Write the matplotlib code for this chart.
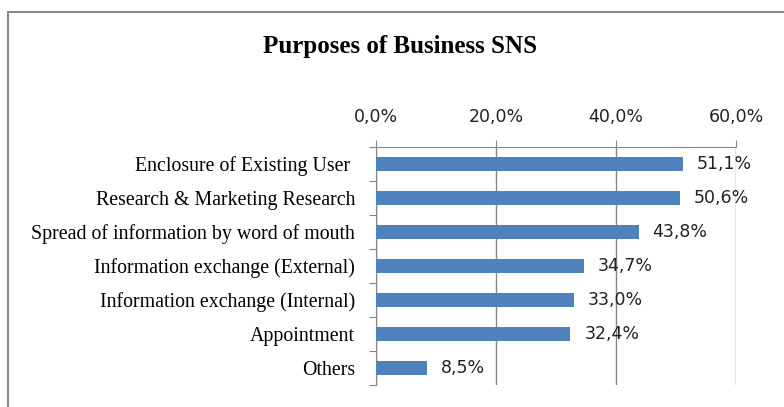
import matplotlib
matplotlib.use("Agg")
import matplotlib.pyplot as plt
from matplotlib.patches import Rectangle

categories = ["Enclosure of Existing User ", "Research & Marketing Research",
              "Spread of information by word of mouth", "Information exchange (External)",
              "Information exchange (Internal)", "Appointment", "Others"]
values = [51.1, 50.6, 43.8, 34.7, 33.0, 32.4, 8.5]
ticks = [0, 20, 40, 60]
tick_labels = ["0,0%", "20,0%", "40,0%", "60,0%"]

fig = plt.figure(figsize=(7.84, 4.07), dpi=100)
ax = fig.add_axes([376/784, 1-385/407, 360/784, 238/407])

pos = list(range(len(categories)))
ax.barh(pos, values, height=0.43, color="#4F81BD", zorder=3)
ax.set_ylim(len(categories) - 0.5, -0.5)
ax.set_xlim(0, 60)

ax.xaxis.tick_top()
ax.set_xticks(ticks)
ax.set_xticklabels(tick_labels, fontsize=12.5, family="DejaVu Sans", color="#222222")
ax.tick_params(axis="x", length=5, color="#868686", pad=10)
ax.grid(axis="x", color="#868686", lw=1, zorder=0)

ax.set_yticks([p + 0.5 for p in pos[:-1]] + [-0.5, len(categories) - 0.5], minor=False)
ax.set_yticklabels([])
ax.set_yticks(pos, minor=True)
ax.set_yticklabels(categories, minor=True, fontsize=14.3, family="Liberation Serif")
ax.tick_params(axis="y", which="major", length=5, color="#868686")
ax.tick_params(axis="y", which="minor", length=0, pad=15)

for s in ["right", "bottom"]:
    ax.spines[s].set_visible(False)
for s in ["left", "top"]:
    ax.spines[s].set_color("#868686")

for p, v in zip(pos, values):
    ax.text(v + 2.3, p, f"{v:.1f}%".replace(".", ","), va="center", ha="left",
            fontsize=12.5, family="DejaVu Sans", color="#222222", zorder=4)

fig.text(400/784, 1-47/407, "Purposes of Business SNS", ha="center", va="center",
         fontsize=18, fontweight="bold", family="Liberation Serif")

fig.add_artist(Rectangle((8/784, -0.1), 1.2, 1.1 - 12/407, transform=fig.transFigure,
                         fill=False, edgecolor="#888888", lw=1.5))

fig.savefig("out.png", dpi=100)
